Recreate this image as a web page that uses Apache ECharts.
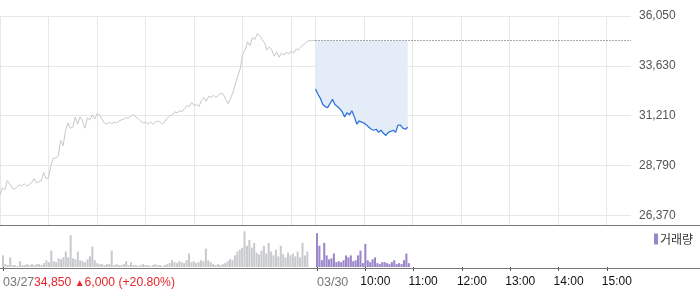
<!DOCTYPE html>
<html>
<head>
<meta charset="utf-8">
<script src="https://cdn.jsdelivr.net/npm/echarts@6/dist/echarts.min.js"></script>
<style>
html,body{margin:0;padding:0;background:#fff;}
#chart{width:700px;height:289px;}
</style>
</head>
<body>
<div id="chart"></div>
<script>
// ---- data ----
const dates = ['03/27', '03/30'];
const prevClose = 34850;
const changeText = ['34,850', '6,000', '(+20.80%)'];
const yTicks = [26370, 28790, 31210, 33630, 36050];
const hourLabels = ['10:00', '11:00', '12:00', '13:00', '14:00', '15:00'];

// 3-minute samples, 03/27 09:00 .. 15:30
const day1Price = [
  27350, 27700, 27600, 28050, 27900, 27700, 27650, 27750, 27850, 27800,
  27900, 27800, 27850, 27950, 28150, 27950, 28000, 28050, 28450, 28150,
  28200, 28800, 29150, 29150, 29250, 30000, 29750, 30500, 30850, 30600,
  30650, 31150, 30800, 31150, 30950, 30600, 31100, 31000, 31250, 31050,
  31300, 31250, 31050, 30850, 30800, 30900, 30800, 30900, 30850, 30950,
  31000, 31050, 31100, 31100, 31200, 31250, 31150, 31050, 30950, 30850,
  30900, 30800, 30900, 30800, 30900, 30950, 30900, 30800, 30950, 31100,
  31200, 31250, 31400, 31350, 31450, 31400, 31550, 31700, 31650, 31850,
  31700, 31750, 31650, 31950, 32100, 31900, 32150, 32100, 32200, 32100,
  32200, 32300, 32250, 32000, 31800, 32050, 32350, 32750, 33150, 33500,
  34200, 34400, 34800, 34600, 35000, 34900, 35200, 35100, 34900, 34750,
  34400, 34550, 34400, 34100, 34300, 34050, 34250, 34150, 34300, 34200,
  34350, 34250, 34450, 34400, 34550, 34650, 34750, 34850, 34850, 34850,
  34850
];
// 3-minute samples, 03/30 09:00 .. 10:54
const day2Price = [
  32500, 32250, 32050, 31750, 31650, 31600, 31800, 32000, 31750, 31650,
  31550, 31400, 31150, 31350, 31250, 31450, 31150, 30800, 30950, 30900,
  30850, 30750, 30650, 30550, 30500, 30550, 30400, 30500, 30350, 30250,
  30400, 30450, 30500, 30400, 30750, 30750, 30600, 30550, 30650
];
// volume (x10k shares), 3-minute buckets
const day1Vol = [
  12, 3, 2, 10, 2, 2, 1, 6, 2, 2,
  3, 2, 3, 2, 3, 3, 2, 4, 7, 5,
  17, 6, 5, 9, 8, 10, 16, 10, 33, 9,
  8, 16, 7, 6, 5, 8, 11, 21, 7, 4,
  3, 3, 2, 3, 3, 17, 2, 3, 2, 2,
  3, 6, 2, 5, 2, 2, 1, 2, 3, 2,
  2, 1, 2, 3, 2, 2, 1, 2, 3, 4,
  7, 5, 4, 6, 5, 4, 7, 14, 5, 6,
  4, 5, 7, 6, 19, 7, 5, 3, 2, 3,
  2, 3, 4, 6, 8, 7, 12, 16, 18, 20,
  37, 22, 28, 20, 25, 15, 13, 17, 22, 14,
  25, 16, 12, 18, 11, 22, 13, 10, 15, 12,
  14, 11, 16, 10, 25, 12, 16, 0, 0, 0
];
const day2Vol = [
  35, 22, 7, 25, 12, 8, 9, 14, 5, 6,
  5, 7, 12, 10, 12, 6, 7, 12, 17, 4,
  24, 7, 5, 8, 10, 4, 3, 5, 5, 4,
  3, 5, 7, 3, 4, 3, 7, 14, 4
];

// ---- build axis categories (3-minute slots for two sessions) ----
const cats = [];
dates.forEach(d => {
  for (let m = 0; m < 390; m += 3) {
    const h = 9 + Math.floor(m / 60), mm = m % 60;
    cats.push(d + ' ' + String(h).padStart(2, '0') + ':' + String(mm).padStart(2, '0'));
  }
});
cats.push(dates[1] + ' 15:30');
const N = cats.length;
const day2Start = 130;

const pad = (arr, before) => {
  const out = new Array(N).fill(null);
  arr.forEach((v, i) => { out[before + i] = v; });
  return out;
};
const grayLine = pad(day1Price, 0);
const blueLine = pad(day2Price, day2Start);
const volData = new Array(N).fill(null);
day1Vol.forEach((v, i) => { volData[i] = {value: v, itemStyle: {color: '#c8cacd'}}; });
day2Vol.forEach((v, i) => { volData[day2Start + i] = v; });

const isHour = v => v.endsWith(':00');
const isDayStart = v => v.endsWith(' 09:00');
const hourTick = (i, v) => isHour(v) && (v.startsWith(dates[1]) || isDayStart(v));
const dateTick = (i, v) => isDayStart(v);
const hourOnly = (i, v) => isHour(v) && v.startsWith(dates[1]) && !isDayStart(v) && hourLabels.includes(v.split(' ')[1]);

const FONT = 'Liberation Sans, Arial, sans-serif';
const chart = echarts.init(document.getElementById('chart'), null, {renderer: 'canvas'});
chart.setOption({
  animation: false,
  textStyle: {fontFamily: FONT},
  grid: [
    {left: 0, right: 69, top: 16, height: 209.3},
    {left: 0, right: 69, top: 226, height: 42.5}
  ],
  legend: {
    data: ['거래량'], left: 649, top: 228, icon: 'rect', itemWidth: 4, itemHeight: 11,
    textStyle: {fontSize: 12, color: '#333', fontFamily: 'Noto Sans CJK KR', padding: [0, 0, 0, -3]}
  },
  xAxis: [
    {
      type: 'category', gridIndex: 0, data: cats, boundaryGap: false,
      axisLine: {show: false}, axisTick: {show: false}, axisLabel: {show: false},
      splitLine: {show: true, interval: (i, v) => isHour(v), lineStyle: {color: '#e8e8e8', width: 1}}
    },
    {
      type: 'category', gridIndex: 1, data: cats, boundaryGap: false,
      axisLine: {show: false},
      axisTick: {show: true, interval: hourTick, length: 4, lineStyle: {color: '#555'}},
      axisLabel: {
        show: true, interval: dateTick, align: 'left', margin: 9, fontSize: 12.5, color: '#777',
        formatter: v => v.split(' ')[0]
      },
      splitLine: {show: false}
    },
    {
      type: 'category', gridIndex: 1, data: cats, boundaryGap: false, position: 'bottom',
      axisLine: {show: false}, axisTick: {show: false},
      axisLabel: {
        show: true, interval: hourOnly, align: 'left', margin: 9, fontSize: 12, color: '#111',
        padding: [0, 0, 0, -5],
        formatter: v => v.split(' ')[1]
      },
      splitLine: {show: false}
    }
  ],
  yAxis: [
    {
      type: 'value', gridIndex: 0, position: 'right', min: 25884, max: 36050,
      axisLine: {show: false},
      axisTick: {show: false, customValues: yTicks},
      axisLabel: {
        customValues: yTicks, margin: 8, fontSize: 12, color: '#555', align: 'left',
        formatter: v => v.toLocaleString('en-US')
      },
      splitLine: {show: true, lineStyle: {color: '#e8e8e8', width: 1}}
    },
    {
      type: 'value', gridIndex: 1, min: 0, max: 42.5, show: false
    }
  ],
  series: [
    {
      name: '전일', type: 'line', xAxisIndex: 0, yAxisIndex: 0, data: grayLine,
      showSymbol: false, connectNulls: false,
      lineStyle: {color: '#c6c7ca', width: 1}, itemStyle: {color: '#c6c7ca'}
    },
    {
      name: '현재', type: 'line', xAxisIndex: 0, yAxisIndex: 0, data: blueLine,
      showSymbol: false,
      lineStyle: {color: '#2f72dc', width: 1.3}, itemStyle: {color: '#2f72dc'},
      areaStyle: {origin: prevClose, color: '#e4ecf8', opacity: 1},
      markLine: {
        silent: true, symbol: 'none', label: {show: false},
        lineStyle: {color: '#555', type: [1, 2], width: 1},
        data: [[{coord: [cats[day2Start], prevClose]}, {coord: [cats[N - 1], prevClose]}]]
      },
      z: 3
    },
    {
      name: '거래량', type: 'bar', xAxisIndex: 1, yAxisIndex: 1, data: volData,
      barWidth: '85%', itemStyle: {color: '#9a86c9'}
    }
  ],
  graphic: [
    {type: 'line', shape: {x1: 0, y1: 225.5, x2: 700, y2: 225.5}, style: {stroke: '#777', lineWidth: 1}, z: 10},
    {type: 'line', shape: {x1: 0, y1: 268.5, x2: 700, y2: 268.5}, style: {stroke: '#777', lineWidth: 1}, z: 10},
    {
      type: 'text', left: 34, top: 277, z: 10,
      style: {
        text: '{p|' + changeText[0] + ' }{t|▲}{p|' + changeText[1] + ' ' + changeText[2] + '}',
        rich: {
          p: {fontSize: 12.2, fill: '#e5262c', fontFamily: FONT},
          t: {fontSize: 10, fill: '#e5262c', fontFamily: FONT}
        }
      }
    }
  ]
});
</script>
</body>
</html>
